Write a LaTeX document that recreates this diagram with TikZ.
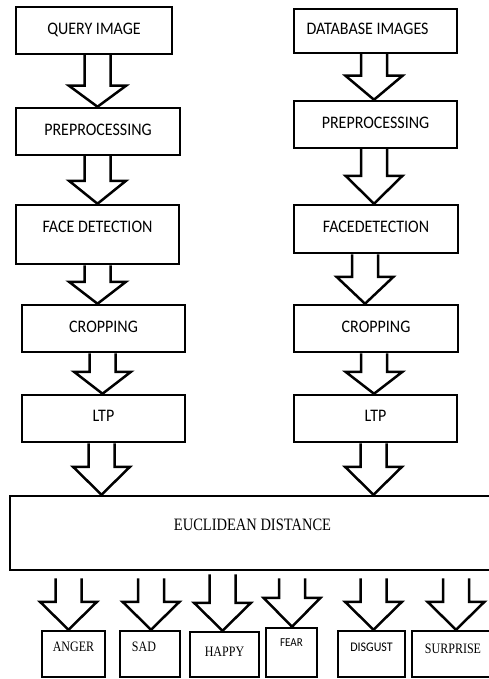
\documentclass[tikz,border=0pt]{standalone}
\usepackage{graphicx}
\usepackage{fontspec}
\setmainfont{Liberation Serif}
\newfontfamily\calibri{Carlito}
\usetikzlibrary{calc}

\tikzset{
  box/.style={draw, line width=2.5pt, inner sep=0pt,
    font=\calibri\fontsize{16}{18}\selectfont, text height=11.3pt, text depth=3pt},
  resbox/.style={box, font=\fontsize{12}{14}\selectfont, text height=9.5pt, text depth=14pt},
  bigarrow/.style={draw, line width=2.5pt},
}
% labels are a little taller than the font
\newcommand{\tall}[2][1.1]{\scalebox{1}[#1]{#2}}
% hollow block arrow: [#1] head length, #2 x position, #3 start, #4 end
\newcommand{\blockarrow}[4][25]{%
  \draw[bigarrow] let \p1=(#3), \p2=(#4) in
    (#2pt-13pt,\y1) -- (#2pt-13pt,\y2+#1pt) -- (#2pt-28.5pt,\y2+#1pt) -- (#2pt,\y2)
    -- (#2pt+28.5pt,\y2+#1pt) -- (#2pt+13pt,\y2+#1pt) -- (#2pt+13pt,\y1);}

\begin{document}
\begin{tikzpicture}[x=1pt, y=-1pt]
  \useasboundingbox (0,0) rectangle (489,679);
  \clip (0,0) rectangle (489,679);

  % query side
  \node[box, minimum width=156pt, minimum height=47pt] (query) at (94,30.5) {\tall{QUERY IMAGE}};
  \node[box, minimum width=164pt, minimum height=47pt] (prel) at (98,131.5) {\tall{PREPROCESSING}};
  \node[box, minimum width=163pt, minimum height=59pt, text depth=15pt] (facel) at (97.5,234.5) {\tall{FACE DETECTION}};
  \node[box, minimum width=163pt, minimum height=47pt] (cropl) at (103.5,328.5) {\tall{CROPPING}};
  \node[box, minimum width=163pt, minimum height=47pt, text depth=5pt] (ltpl) at (103.5,418.5) {\tall{LTP}};

  % database side
  \node[box, minimum width=163pt, minimum height=44pt, text depth=4pt] (dbase) at (375.5,31) {\tall{DATABASE IMAGES}\hspace*{16pt}};
  \node[box, minimum width=163pt, minimum height=47pt] (prer) at (375.5,124.5) {\tall{PREPROCESSING}};
  \node[box, minimum width=164pt, minimum height=48pt, text depth=4pt] (facer) at (376,229) {\tall{FACEDETECTION}};
  \node[box, minimum width=164pt, minimum height=47pt] (cropr) at (376,328.5) {\tall{CROPPING}};
  \node[box, minimum width=163pt, minimum height=47pt, text depth=5pt] (ltpr) at (375.5,418.5) {\tall{LTP}};

  % matching
  \node[box, minimum width=485pt, minimum height=74pt, font=\fontsize{14.5}{16}\selectfont,
    text height=11.5pt, text depth=16pt] (eucl) at (252.5,533) {\tall[1.2]{EUCLIDEAN DISTANCE}};

  % emotions
  \node[resbox, minimum width=63pt, minimum height=46pt] (anger) at (73.5,654) {\tall[1.2]{ANGER}};
  \node[resbox, minimum width=60pt, minimum height=46pt] (sad) at (150,654) {\tall[1.2]{SAD}\hspace*{12pt}};
  \node[resbox, minimum width=69pt, minimum height=45pt, text depth=5pt] (happy) at (224.5,654.5) {\tall[1.2]{HAPPY}};
  \node[resbox, minimum width=51pt, minimum height=49pt, font=\calibri\fontsize{11}{13}\selectfont,
    text height=7.8pt, text depth=19pt] (fear) at (291.5,652.5) {\tall{FEAR}};
  \node[resbox, minimum width=67pt, minimum height=46pt, font=\calibri\fontsize{12}{14}\selectfont,
    text height=8.5pt] (disgust) at (371.5,654) {\tall{DISGUST}};
  \node[resbox, minimum width=88pt, minimum height=46pt, text depth=10pt] (surprise) at (456,654) {\tall[1.2]{SURPRISE}\hspace*{6pt}};

  % arrows
  \blockarrow[21]{97.5}{query.south}{prel.north}
  \blockarrow[23]{97.5}{prel.south}{facel.north}
  \blockarrow[22]{97.5}{facel.south}{cropl.north}
  \blockarrow[22]{102.5}{cropl.south}{ltpl.north}
  \blockarrow[28]{101.5}{ltpl.south}{eucl.north}

  \blockarrow[24]{374}{dbase.south}{prer.north}
  \blockarrow[28]{374}{prer.south}{facer.north}
  \blockarrow[27]{365}{facer.south}{cropr.north}
  \blockarrow[22]{374}{cropr.south}{ltpr.north}
  \blockarrow[28]{373.5}{ltpr.south}{eucl.north}

  \blockarrow[28]{68.5}{[yshift=-7pt]eucl.south}{anger.north}
  \blockarrow[28]{151}{[yshift=-7pt]eucl.south}{sad.north}
  \blockarrow[28]{222.5}{[yshift=-3pt]eucl.south}{happy.north}
  \blockarrow[29]{292}{[yshift=-7pt]eucl.south}{fear.north}
  \blockarrow[28]{373.5}{[yshift=-7pt]eucl.south}{disgust.north}
  \blockarrow[28]{456}{[yshift=-7pt]eucl.south}{surprise.north}
\end{tikzpicture}
\end{document}
